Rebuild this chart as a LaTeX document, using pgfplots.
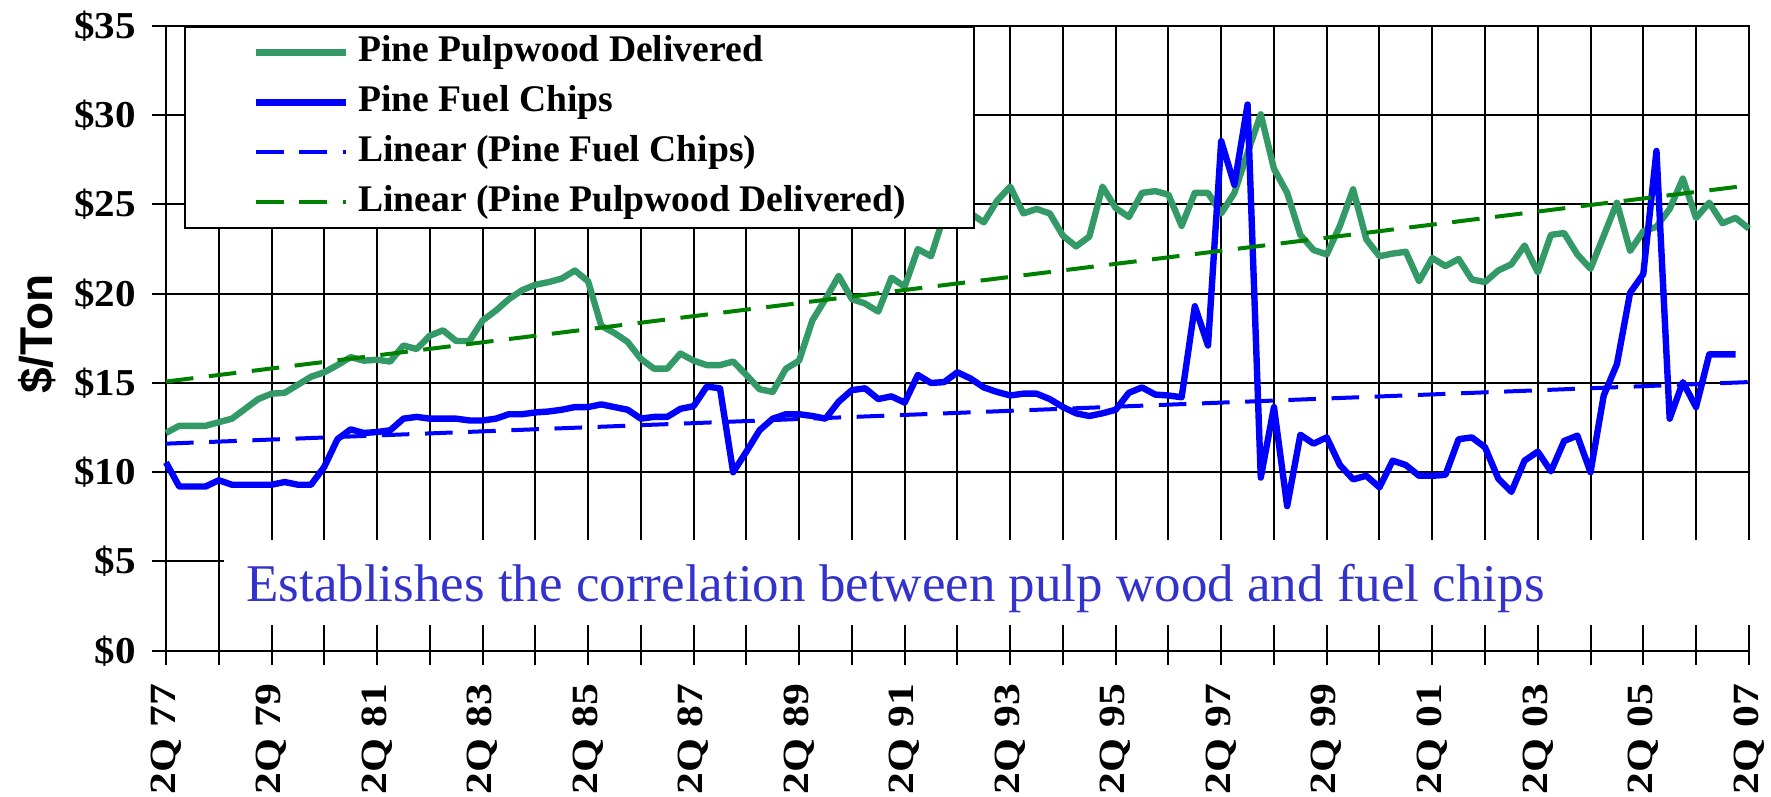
\documentclass[border=0pt]{standalone}
\usepackage{graphicx}
\usepackage{pgfplots}
\pgfplotsset{compat=1.18}
\usepackage{pgfplotstable}
\usepackage{fontspec}
\setmainfont{Liberation Serif}
\newfontfamily\sansfont{Liberation Sans}
\definecolor{pulpgreen}{RGB}{51,153,102}
\definecolor{trendgreen}{RGB}{0,128,0}
\definecolor{chipblue}{RGB}{0,0,255}
\definecolor{annblue}{RGB}{51,51,204}
\newcommand{\wl}[1]{\scalebox{1.18}[1]{#1}}
\newcommand{\yl}[1]{\scalebox{1.08}[1]{#1}}

% Pine Pulpwood Delivered, quarterly from 2Q77 (q=0) to 2Q07 (q=120)
\pgfplotstableread{
q v
0 12.2
1 12.6
2 12.6
3 12.6
4 12.8
5 13.0
6 13.55
7 14.1
8 14.4
9 14.45
10 14.9
11 15.35
12 15.6
13 16.0
14 16.45
15 16.25
16 16.3
17 16.2
18 17.1
19 16.9
20 17.65
21 17.95
22 17.35
23 17.35
24 18.5
25 19.05
26 19.7
27 20.2
28 20.5
29 20.65
30 20.85
31 21.3
32 20.7
33 18.2
34 17.8
35 17.3
36 16.35
37 15.8
38 15.8
39 16.65
40 16.25
41 16.0
42 16.0
43 16.2
44 15.45
45 14.65
46 14.5
47 15.8
48 16.25
49 18.5
50 19.7
51 21.0
52 19.7
53 19.45
54 19.0
55 20.9
56 20.4
57 22.5
58 22.1
59 24.4
60 24.2
61 24.5
62 24.0
63 25.2
64 26.0
65 24.5
66 24.75
67 24.5
68 23.25
69 22.65
70 23.2
71 26.0
72 24.8
73 24.3
74 25.65
75 25.75
76 25.55
77 23.8
78 25.65
79 25.65
80 24.5
81 25.65
82 27.9
83 30.05
84 27.0
85 25.65
86 23.3
87 22.45
88 22.2
89 23.8
90 25.85
91 23.05
92 22.1
93 22.25
94 22.35
95 20.7
96 22.0
97 21.55
98 21.95
99 20.8
100 20.65
101 21.3
102 21.65
103 22.7
104 21.2
105 23.3
106 23.4
107 22.2
108 21.4
109 23.25
110 25.1
111 22.4
112 23.5
113 23.75
114 24.75
115 26.45
116 24.25
117 25.1
118 23.95
119 24.25
120 23.65
}\pulpdata

% Pine Fuel Chips, quarterly from 2Q77 (q=0) to 1Q07 (q=119)
\pgfplotstableread{
q v
0 10.55
1 9.2
2 9.2
3 9.2
4 9.55
5 9.3
6 9.3
7 9.3
8 9.3
9 9.45
10 9.3
11 9.3
12 10.3
13 11.85
14 12.4
15 12.2
16 12.25
17 12.35
18 13.0
19 13.1
20 13.0
21 13.0
22 13.0
23 12.9
24 12.9
25 13.0
26 13.25
27 13.25
28 13.35
29 13.4
30 13.5
31 13.65
32 13.65
33 13.8
34 13.65
35 13.5
36 13.0
37 13.1
38 13.1
39 13.55
40 13.7
41 14.8
42 14.7
43 10.0
44 11.15
45 12.35
46 13.0
47 13.25
48 13.25
49 13.15
50 13.0
51 13.95
52 14.6
53 14.7
54 14.1
55 14.25
56 13.9
57 15.45
58 15.0
59 15.05
60 15.6
61 15.25
62 14.75
63 14.5
64 14.3
65 14.4
66 14.4
67 14.1
68 13.65
69 13.3
70 13.15
71 13.3
72 13.5
73 14.45
74 14.75
75 14.35
76 14.3
77 14.2
78 19.3
79 17.1
80 28.55
81 26.1
82 30.6
83 9.7
84 13.65
85 8.1
86 12.1
87 11.6
88 11.95
89 10.4
90 9.6
91 9.8
92 9.15
93 10.65
94 10.4
95 9.8
96 9.8
97 9.85
98 11.85
99 11.95
100 11.4
101 9.65
102 8.9
103 10.65
104 11.15
105 10.05
106 11.75
107 12.05
108 10.0
109 14.3
110 16.05
111 20.05
112 21.1
113 28.0
114 13.0
115 15.05
116 13.65
117 16.6
118 16.6
119 16.6
}\chipdata

\begin{document}
\begin{tikzpicture}
\useasboundingbox (-83bp,-73.15bp) rectangle (802.5bp,325.35bp);
\begin{axis}[
  at={(0,0)}, anchor=south west,
  scale only axis, width=791.4bp, height=312.35bp,
  xmin=0, xmax=120, ymin=0, ymax=35,
  clip=false,
  axis line style={line width=1bp, black},
  xtick={0,8,...,120}, minor xtick={4,12,...,116},
  xticklabels={\wl{2Q 77},\wl{2Q 79},\wl{2Q 81},\wl{2Q 83},\wl{2Q 85},\wl{2Q 87},\wl{2Q 89},\wl{2Q 91},\wl{2Q 93},\wl{2Q 95},\wl{2Q 97},\wl{2Q 99},\wl{2Q 01},\wl{2Q 03},\wl{2Q 05},\wl{2Q 07}},
  ytick={0,5,...,35},
  yticklabels={\yl{\$0},\yl{\$5},\yl{\$10},\yl{\$15},\yl{\$20},\yl{\$25},\yl{\$30},\yl{\$35}},
  grid=both,
  major grid style={line width=1bp, black},
  minor grid style={line width=1bp, black},
  tick align=outside, tick pos=left,
  major tick length=7bp, minor tick length=7bp,
  tick style={line width=1bp, black},
  xticklabel style={rotate=90, anchor=east, inner sep=9.5bp, font=\fontsize{18.5bp}{22bp}\selectfont\bfseries},
  yticklabel style={anchor=east, inner sep=0pt, xshift=-8bp, font=\fontsize{19bp}{22bp}\selectfont\bfseries},
  ylabel={\$/Ton},
  ylabel style={font=\sansfont\bfseries\fontsize{23bp}{27bp}\selectfont, at={(axis description cs:-0.0815,0.507)}, anchor=center},
  legend style={at={(0.01137,1)}, anchor=north west, draw=black, line width=1bp, fill=white,
    inner xsep=34bp, inner ysep=4.2bp, row sep=8bp, column sep=4.5bp,
    font=\fontsize{18.8bp}{22bp}\selectfont\bfseries,
    nodes={inner sep=0pt, text height=13bp, text depth=4bp}},
  legend cell align=left,
  legend image code/.code={\draw[#1] (0bp,0bp) -- (45bp,0bp);},
]
\addplot[color=pulpgreen, line width=3.2bp, line join=round] table[x=q, y=v] {\pulpdata};
\addlegendentry{Pine Pulpwood Delivered}
\addplot[color=chipblue, line width=3.2bp, line join=round] table[x=q, y=v] {\chipdata};
\addlegendentry{Pine Fuel Chips}
\addplot[color=chipblue, line width=2bp, dash pattern=on 13.8bp off 7.8bp] coordinates {(0,11.6) (120,15.05)};
\addlegendentry{Linear (Pine Fuel Chips)}
\addplot[color=trendgreen, line width=2bp, dash pattern=on 13.8bp off 7.8bp] coordinates {(0,15.08) (120,26.07)};
\addlegendentry{Linear (Pine Pulpwood Delivered)}
\fill[white] (axis cs:4.4,1.44) rectangle (axis cs:121.5,6.2);
\node[anchor=base west, inner sep=0pt, text=annblue, font=\fontsize{26.5bp}{30bp}\selectfont] at (axis cs:6.07,2.75) {Establishes the correlation between pulp wood and fuel chips};
\end{axis}
\end{tikzpicture}
\end{document}
